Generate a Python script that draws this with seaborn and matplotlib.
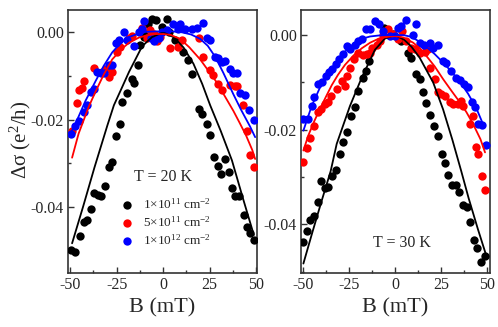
import numpy as np
import pandas as pd
import matplotlib
matplotlib.use("Agg")
import matplotlib.pyplot as plt
from matplotlib.ticker import MultipleLocator, FormatStrFormatter
import seaborn as sns

# ---- data: B in mT, delta sigma in e^2/h ----
# T = 20 K panel
b20_n1 = [-49.5, -47.5, -45.0, -42.6, -40.9, -38.7, -37.3, -35.1, -33.2, -31.3, -29.2, -27.4,
          -25.4, -23.4, -22.0, -19.4, -17.0, -15.8, -13.8, -12.5, -10.2, -9.3, -8.1, -5.9, -4.1,
          -0.7, 2.3, 3.4, 6.5, 10.9, 13.6, 15.4, 19.5, 20.8, 23.4, 25.2, 27.3, 29.4, 31.3, 33.2,
          35.3, 37.1, 38.9, 40.7, 43.4, 45.2, 46.9, 48.8]
ds20_n1 = [-0.0498, -0.0504, -0.0466, -0.0435, -0.0430, -0.0405, -0.0367, -0.0373, -0.0374,
           -0.0352, -0.0308, -0.0296, -0.0238, -0.0211, -0.0159, -0.0140, -0.0107, -0.0115,
           -0.0075, -0.0030, -0.0011, -0.0003, 0.0020, 0.0031, 0.0027, 0.0012, 0.0030, 0.0001,
           -0.0017, -0.0045, -0.0064, -0.0096, -0.0176, -0.0186, -0.0211, -0.0235, -0.0286,
           -0.0306, -0.0325, -0.0291, -0.0319, -0.0356, -0.0374, -0.0374, -0.0418, -0.0445,
           -0.0460, -0.0475]

b20_n5 = [-49.0, -46.5, -45.2, -43.8, -42.5, -37.3, -33.0, -31.0, -29.2, -27.4, -24.7, -23.0,
          -18.4, -16.7, -11.5, -8.6, -7.0, -5.0, -3.5, -1.5, 3.8, 8.2, 10.0, 19.5, 21.3, 25.3,
          27.0, 29.7, 31.5, 36.0, 38.7, 40.0, 43.2, 45.3, 47.0, 49.1]
ds20_n5 = [-0.0225, -0.0163, -0.0133, -0.0128, -0.0112, -0.0081, -0.0090, -0.0083, -0.0102,
           -0.0091, -0.0045, -0.0034, -0.0014, -0.0008, 0.0010, -0.0014, 0.0005, -0.0003,
           -0.0020, -0.0011, -0.0036, -0.0034, -0.0018, -0.0014, -0.0056, -0.0087, -0.0098,
           -0.0119, -0.0133, -0.0121, -0.0123, -0.0123, -0.0167, -0.0226, -0.0281, -0.0308]

b20_n10 = [-49.5, -47.5, -45.3, -42.6, -40.9, -39.0, -37.3, -35.5, -33.7, -32.0, -29.2, -27.4,
           -25.6, -23.8, -21.1, -19.4, -15.8, -13.1, -11.3, -10.4, -6.8, -5.0, -2.3, -0.5,
           2.0, 5.5, 8.2, 9.1, 11.8, 15.4, 18.1, 21.3, 23.5, 25.3, 28.0, 29.7, 31.5, 33.5,
           36.0, 37.5, 39.6, 41.4, 44.1, 46.4, 49.1]
ds20_n10 = [-0.0232, -0.0215, -0.0203, -0.0182, -0.0167, -0.0136, -0.0129, -0.0091, -0.0094,
            -0.0094, -0.0075, -0.0075, -0.0024, -0.0018, 0.0001, -0.0017, -0.0031, 0.0001,
            0.0007, 0.0025, -0.0013, -0.0021, -0.0014, 0.0001, 0.0005, 0.0020, 0.0007, 0.0020,
            0.0007, 0.0008, 0.0010, 0.0022, -0.0014, -0.0017, -0.0056, -0.0060, -0.0068,
            -0.0066, -0.0083, -0.0094, -0.0094, -0.0140, -0.0144, -0.0178, -0.0201]

# fit curves, T = 20 K
fb20_n1 = [-49.0, -43.0, -37.0, -30.0, -26.5, -22.0, -18.4, -11.3, -6.0, 0.0, 6.0, 11.0,
           16.3, 21.0, 25.3, 31.0, 37.0, 43.0, 48.8]
fd20_n1 = [-0.0483, -0.0398, -0.0310, -0.0213, -0.0167, -0.0125, -0.0091, -0.0032, -0.0011,
           0.0000, -0.0012, -0.0035, -0.0072, -0.0118, -0.0167, -0.0226, -0.0293, -0.0381,
           -0.0464]
fb20_n5 = [-49.0, -45.5, -40.0, -36.4, -32.0, -27.4, -22.0, -18.4, -13.0, -8.6, -4.0, 0.0,
           4.0, 9.1, 14.0, 19.9, 24.0, 28.9, 33.0, 37.8, 41.0, 44.6, 48.0, 49.5]
fd20_n5 = [-0.0287, -0.0232, -0.0170, -0.0136, -0.0097, -0.0062, -0.0037, -0.0024, -0.0012,
           -0.0007, -0.0004, -0.0004, -0.0006, -0.0015, -0.0034, -0.0062, -0.0086, -0.0115,
           -0.0145, -0.0180, -0.0206, -0.0236, -0.0270, -0.0290]
fb20_n10 = [-49.8, -45.5, -41.8, -36.4, -32.0, -27.4, -23.0, -18.4, -14.0, -9.5, -4.0, 0.0,
            5.0, 10.0, 15.0, 19.9, 24.0, 28.0, 32.4, 37.8, 42.0, 46.8, 49.5]
fd20_n10 = [-0.0232, -0.0193, -0.0157, -0.0112, -0.0077, -0.0046, -0.0025, -0.0011, -0.0004,
            0.0001, 0.0002, 0.0002, 0.0002, 0.0000, -0.0005, -0.0015, -0.0031, -0.0056,
            -0.0093, -0.0142, -0.0178, -0.0216, -0.0240]

# T = 30 K panel
b30_n1 = [-49.8, -48.0, -46.2, -44.0, -42.0, -40.2, -38.0, -36.2, -34.1, -32.2, -29.9, -28.1,
          -26.3, -23.9, -21.7, -20.3, -17.2, -15.9, -14.1, -6.0, -1.0, 3.0, 7.1, 8.9, 11.6,
          13.4, 15.2, 17.0, 19.2, 21.4, 23.2, 25.4, 27.2, 29.0, 31.2, 33.0, 34.8, 37.1, 38.9,
          40.8, 42.9, 44.7, 46.7, 48.9]
ds30_n1 = [-0.0438, -0.0415, -0.0392, -0.0382, -0.0353, -0.0309, -0.0324, -0.0321, -0.0297,
           -0.0286, -0.0251, -0.0227, -0.0204, -0.0171, -0.0153, -0.0118, -0.0090, -0.0076,
           -0.0055, 0.0014, 0.0003, -0.0012, -0.0037, -0.0048, -0.0083, -0.0092, -0.0120,
           -0.0144, -0.0169, -0.0192, -0.0213, -0.0251, -0.0270, -0.0295, -0.0316, -0.0316,
           -0.0332, -0.0359, -0.0364, -0.0395, -0.0434, -0.0450, -0.0479, -0.0467]

b30_n5 = [-49.8, -48.0, -46.2, -44.0, -42.0, -40.5, -38.0, -36.2, -34.8, -31.7, -29.0, -27.2,
          -26.3, -24.5, -22.1, -20.0, -17.2, -15.0, -13.6, -12.7, -10.0, -8.2, -6.5, -3.6,
          -1.0, 1.6, 4.0, 6.1, 8.9, 10.8, 13.4, 16.1, 17.9, 19.2, 21.6, 23.4, 25.2, 27.0,
          29.7, 31.5, 34.2, 36.0, 37.0, 40.9, 42.4, 43.8, 45.3, 47.1, 48.9]
ds30_n5 = [-0.0269, -0.0239, -0.0217, -0.0193, -0.0162, -0.0156, -0.0146, -0.0142, -0.0128,
           -0.0114, -0.0097, -0.0107, -0.0086, -0.0069, -0.0051, -0.0037, -0.0043, -0.0040,
           -0.0037, -0.0027, -0.0020, -0.0013, 0.0000, 0.0012, 0.0002, -0.0009, 0.0008,
           -0.0013, -0.0027, -0.0030, -0.0037, -0.0036, -0.0030, -0.0069, -0.0093, -0.0120,
           -0.0125, -0.0128, -0.0142, -0.0146, -0.0146, -0.0139, -0.0150, -0.0188, -0.0171,
           -0.0237, -0.0252, -0.0298, -0.0327]

b30_n10 = [-49.8, -47.4, -45.3, -43.9, -42.0, -39.8, -37.7, -36.0, -34.4, -32.2, -30.4, -28.1,
           -26.3, -24.5, -21.7, -19.9, -18.1, -15.9, -13.6, -10.9, -8.7, -6.4, -2.7, -0.2,
           1.6, 3.4, 5.8, 9.8, 11.2, 13.4, 15.6, 18.8, 20.7, 23.4, 26.1, 27.5, 30.6, 33.3,
           35.2, 37.3, 39.7, 41.8, 43.3, 45.1, 47.5, 49.3]
ds30_n10 = [-0.0178, -0.0178, -0.0149, -0.0130, -0.0104, -0.0100, -0.0086, -0.0079, -0.0072,
            -0.0062, -0.0051, -0.0041, -0.0023, -0.0029, -0.0022, -0.0013, -0.0008, 0.0013,
            0.0012, 0.0029, 0.0023, 0.0008, -0.0002, -0.0002, 0.0015, 0.0019, 0.0032, 0.0001,
            0.0023, -0.0016, -0.0020, -0.0016, -0.0027, -0.0020, -0.0055, -0.0058, -0.0076,
            -0.0090, -0.0095, -0.0104, -0.0109, -0.0142, -0.0153, -0.0188, -0.0190, -0.0232]

# fit curves, T = 30 K
fb30_n1 = [-49.8, -45.0, -40.0, -35.0, -31.7, -27.2, -24.5, -18.1, -10.9, -5.4, 0.0, 5.0,
           9.0, 13.4, 20.7, 26.1, 31.2, 36.0, 40.0, 45.0, 49.8]
fd30_n1 = [-0.0483, -0.0418, -0.0352, -0.0288, -0.0230, -0.0180, -0.0150, -0.0090, -0.0031,
           -0.0007, 0.0000, -0.0010, -0.0025, -0.0048, -0.0100, -0.0157, -0.0222, -0.0288,
           -0.0345, -0.0410, -0.0469]
fb30_n5 = [-49.8, -47.1, -44.0, -40.8, -37.5, -34.4, -31.0, -27.2, -22.5, -18.1, -13.5, -9.1,
           -4.5, 0.0, 4.5, 9.8, 13.5, 17.0, 21.5, 26.1, 30.5, 35.2, 38.8, 42.4, 46.4, 48.9]
fd30_n5 = [-0.0244, -0.0212, -0.0183, -0.0156, -0.0130, -0.0106, -0.0084, -0.0063, -0.0043,
           -0.0028, -0.0016, -0.0008, -0.0004, -0.0002, -0.0005, -0.0016, -0.0028, -0.0044,
           -0.0066, -0.0093, -0.0117, -0.0142, -0.0163, -0.0188, -0.0220, -0.0248]
fb30_n10 = [-49.8, -45.3, -40.8, -36.2, -31.7, -27.2, -22.7, -18.1, -13.6, -9.1, -4.5, 0.0,
            4.5, 8.0, 11.6, 17.0, 21.5, 26.1, 30.6, 35.2, 39.7, 44.2, 48.0]
fd30_n10 = [-0.0202, -0.0150, -0.0111, -0.0081, -0.0056, -0.0035, -0.0019, -0.0008, -0.0003,
            -0.0001, 0.0000, 0.0000, 0.0000, -0.0003, -0.0010, -0.0025, -0.0040, -0.0058,
            -0.0077, -0.0099, -0.0124, -0.0155, -0.0190]

DENSITY_LABELS = [r"1×10$^{11}$ cm$^{-2}$", r"5×10$^{11}$ cm$^{-2}$", r"1×10$^{12}$ cm$^{-2}$"]
COLORS = ["#000000", "#ff0000", "#0000ff"]

sns.set_style("ticks")
plt.rcParams["font.family"] = ["Liberation Serif", "DejaVu Serif"]
plt.rcParams["mathtext.fontset"] = "custom"
plt.rcParams["mathtext.rm"] = "Liberation Serif"
plt.rcParams["mathtext.it"] = "Liberation Serif:italic"
plt.rcParams["axes.unicode_minus"] = False

FRAME = "#333333"


def style_axis(ax, xlim, ylim):
    ax.set_xlim(*xlim)
    ax.set_ylim(*ylim)
    ax.xaxis.set_major_locator(MultipleLocator(25))
    ax.xaxis.set_minor_locator(MultipleLocator(12.5))
    ax.yaxis.set_major_locator(MultipleLocator(0.02))
    ax.yaxis.set_minor_locator(MultipleLocator(0.01))
    ax.yaxis.set_major_formatter(FormatStrFormatter("%.2f"))
    ax.tick_params(which="both", direction="in", color=FRAME, width=1, labelsize=11.5,
                   top=False, right=False)
    ax.tick_params(which="major", length=4.5, pad=3)
    ax.tick_params(which="minor", length=2.5)
    for sp in ax.spines.values():
        sp.set_visible(True)
        sp.set_color(FRAME)
        sp.set_linewidth(1.2)
    ax.set_xlabel("B (mT)", fontsize=16, labelpad=4)
    ax.set_ylabel("")


def draw_panel(ax, series, fits):
    handles = []
    for (bx, dy), col in zip(series, COLORS):
        d = pd.DataFrame({"B": bx, "ds": dy})
        sns.scatterplot(data=d, x="B", y="ds", ax=ax, color=col, s=36, linewidth=0,
                        legend=False, zorder=3)
        handles.append(ax.collections[-1])
    for (fx, fy), col in zip(fits, COLORS):
        f = pd.DataFrame({"B": fx, "ds": fy})
        sns.lineplot(data=f, x="B", y="ds", ax=ax, color=col, linewidth=1.3,
                     estimator=None, sort=True, legend=False, zorder=4)
    return handles


fig = plt.figure(figsize=(4.98, 3.27), dpi=100)
ax1 = fig.add_axes([68 / 498, 1 - 273 / 327, 189 / 498, 263 / 327])
ax2 = fig.add_axes([301 / 498, 1 - 273 / 327, 189 / 498, 263 / 327])

h = draw_panel(ax1,
               [(b20_n1, ds20_n1), (b20_n5, ds20_n5), (b20_n10, ds20_n10)],
               [(fb20_n1, fd20_n1), (fb20_n5, fd20_n5), (fb20_n10, fd20_n10)])
draw_panel(ax2,
           [(b30_n1, ds30_n1), (b30_n5, ds30_n5), (b30_n10, ds30_n10)],
           [(fb30_n1, fd30_n1), (fb30_n5, fd30_n5), (fb30_n10, fd30_n10)])

style_axis(ax1, (-51.2, 50.5), (-0.0551, 0.0051))
style_axis(ax2, (-51.1, 51.6), (-0.0503, 0.0053))

fig.text(20 / 498, 1 - 140 / 327, "Δσ (e$^2$/h)", rotation=90, fontsize=15,
         ha="center", va="center")

fig.text(163 / 498, 1 - 177 / 327, "T = 20 K", fontsize=11.5, ha="center", va="center")
fig.text(402 / 498, 1 - 243 / 327, "T = 30 K", fontsize=11.5, ha="center", va="center")

ax1.legend(handles=h, labels=DENSITY_LABELS, loc="upper left",
           bbox_to_anchor=(120 / 498, 1 - 197 / 327), bbox_transform=fig.transFigure,
           frameon=False, fontsize=9.5, handlelength=1.0, handletextpad=0.75,
           labelspacing=0.25, borderpad=0, borderaxespad=0, scatterpoints=1)

fig.savefig("out.png", dpi=100)
